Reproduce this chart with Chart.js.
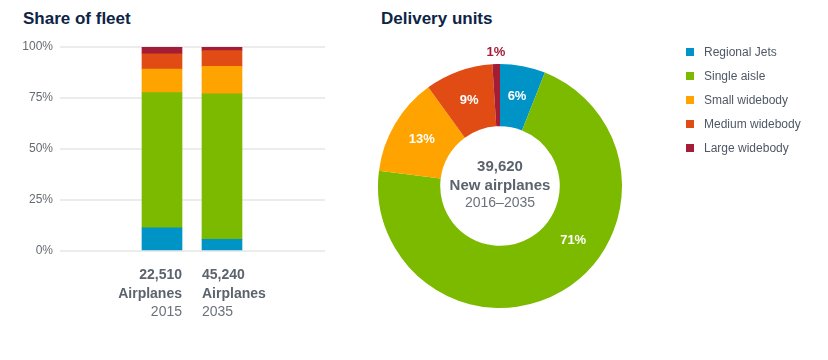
<!DOCTYPE html>
<html>
<head>
<meta charset="utf-8">
<script src="https://cdn.jsdelivr.net/npm/chart.js@4.4.1/dist/chart.umd.min.js"></script>
<style>
  html, body { margin: 0; padding: 0; background: #fff; }
  body { width: 828px; height: 360px; position: relative; overflow: hidden; font-family: "Liberation Sans", Arial, sans-serif; }
  .title { position: absolute; font-weight: bold; font-size: 17px; color: #0d2446; line-height: 20px; }
  #barWrap { position: absolute; left: 0; top: 0; width: 340px; height: 340px; }
  #pieWrap { position: absolute; left: 340px; top: 0; width: 488px; height: 340px; }
  #legend { position: absolute; left: 686px; top: 45px; font-size: 12px; color: #4f5866; }
  .li { height: 24px; position: relative; }
  .sw { position: absolute; left: 0; top: 3px; width: 8px; height: 8px; }
  .lt { position: absolute; left: 18px; top: 0; line-height: 14px; white-space: nowrap; }
</style>
</head>
<body>
<div class="title" style="left:23px;top:9px;">Share of fleet</div>
<div class="title" style="left:381px;top:9px;">Delivery units</div>
<div id="barWrap"><canvas id="bar" width="340" height="340"></canvas></div>
<div id="pieWrap"><canvas id="pie" width="488" height="340"></canvas></div>
<div id="legend"></div>
<script>
// ---- Data ----
const segments = ['Regional Jets', 'Single aisle', 'Small widebody', 'Medium widebody', 'Large widebody'];
const segmentColors = ['#0093c6', '#7cba00', '#ffa300', '#e14b14', '#a41d37'];
const fleetYears = ['2015', '2035'];
const fleetCounts = ['22,510', '45,240'];
const fleetUnit = 'Airplanes';
const fleetPositions = [1, 2];
const share2015 = [11.3, 66.3, 11.6, 7.5, 3.3];
const share2035 = [5.7, 71.3, 13.5, 7.7, 1.8];
const yTicks = [0, 25, 50, 75, 100];
const deliveryShare = [6, 71, 13, 9, 1];
const deliveryTotal = '39,620';
const deliveryCaption = 'New airplanes';
const deliveryPeriod = '2016\u20132035';

const FONT = '"Liberation Sans", Arial, sans-serif';

// ---- Legend ----
const legendEl = document.getElementById('legend');
segments.forEach((s, i) => {
  const d = document.createElement('div');
  d.className = 'li';
  d.innerHTML = '<span class="sw" style="background:' + segmentColors[i] + '"></span><span class="lt">' + s + '</span>';
  legendEl.appendChild(d);
});

// ---- Bar chart ----
const barDatasets = segments.map((s, i) => ({
  label: s,
  data: fleetPositions.map((x, j) => ({ x: x, y: [share2015, share2035][j][i] })),
  backgroundColor: segmentColors[i],
  borderWidth: 0,
  barThickness: 40
}));

const barLabelsPlugin = {
  id: 'barLabels',
  afterDraw(chart) {
    const ctx = chart.ctx;
    const meta = chart.getDatasetMeta(0);
    const base = chart.chartArea.bottom;
    meta.data.forEach((bar, j) => {
      const left = bar.x - bar.width / 2, right = bar.x + bar.width / 2;
      const alignRight = j === 0;
      const x = alignRight ? right : left;
      ctx.save();
      ctx.textAlign = alignRight ? 'right' : 'left';
      ctx.textBaseline = 'middle';
      ctx.fillStyle = '#5b636e';
      ctx.font = 'bold 14px ' + FONT;
      ctx.fillText(fleetCounts[j], x, base + 24);
      ctx.fillText(fleetUnit, x, base + 43);
      ctx.font = '14px ' + FONT;
      ctx.fillStyle = '#6b727c';
      ctx.fillText(fleetYears[j], x, base + 61);
      ctx.restore();
    });
  }
};

new Chart(document.getElementById('bar'), {
  type: 'bar',
  data: { datasets: barDatasets },
  options: {
    responsive: false,
    animation: false,
    layout: { padding: { left: 0, right: 15, top: 47, bottom: 89 } },
    plugins: { legend: { display: false }, tooltip: { enabled: false } },
    scales: {
      x: { type: 'linear', min: -0.7, max: 3.717, offset: false, display: false, stacked: true },
      y: {
        stacked: true, min: 0, max: 100,
        afterFit(s) { s.width = 60; },
        afterBuildTicks(s) { s.ticks = yTicks.map(v => ({ value: v })); },
        border: { display: false },
        grid: { color: '#ececec', lineWidth: 2, drawTicks: false },
        ticks: { padding: 7, color: '#666b72', font: { family: FONT, size: 12 }, callback: v => v + '%' }
      }
    }
  },
  plugins: [barLabelsPlugin]
});

// ---- Doughnut chart ----
const pieLabelsPlugin = {
  id: 'pieLabels',
  afterDraw(chart, args, opts) {
    const ctx = chart.ctx;
    const meta = chart.getDatasetMeta(0);
    meta.data.forEach((arc, i) => {
      const p = arc.getProps(['x', 'y', 'startAngle', 'endAngle', 'innerRadius', 'outerRadius'], true);
      const frac = (opts.angleFraction && opts.angleFraction[i] != null) ? opts.angleFraction[i] : 0.5;
      const a = p.startAngle + (p.endAngle - p.startAngle) * frac;
      const val = deliveryShare[i];
      const outside = val < 3;
      const r = outside ? p.outerRadius + 12 : (p.innerRadius + p.outerRadius) / 2;
      const x = p.x + Math.cos(a) * r, y = p.y + Math.sin(a) * r;
      ctx.save();
      ctx.font = 'bold 13px ' + FONT;
      ctx.textAlign = 'center';
      ctx.textBaseline = 'middle';
      ctx.fillStyle = outside ? segmentColors[i] : '#ffffff';
      ctx.fillText(val + '%', x, y);
      ctx.restore();
    });
    // center text
    const c = meta.data[0];
    ctx.save();
    ctx.textAlign = 'center';
    ctx.textBaseline = 'middle';
    ctx.fillStyle = '#5b636e';
    ctx.font = 'bold 15px ' + FONT;
    ctx.fillText(deliveryTotal, c.x, c.y - 19);
    ctx.fillText(deliveryCaption, c.x, c.y);
    ctx.font = '14px ' + FONT;
    ctx.fillStyle = '#6b727c';
    ctx.fillText(deliveryPeriod, c.x, c.y + 17);
    ctx.restore();
  }
};

new Chart(document.getElementById('pie'), {
  type: 'doughnut',
  data: {
    labels: segments,
    datasets: [{ data: deliveryShare, backgroundColor: segmentColors, borderWidth: 0 }]
  },
  options: {
    responsive: false,
    animation: false,
    cutout: '49%',
    layout: { padding: { left: 38, right: 206, top: 64, bottom: 32 } },
    plugins: {
      legend: { display: false },
      tooltip: { enabled: false },
      pieLabels: { angleFraction: [0.5, 0.41, 0.5, 0.5, 0.5] }
    }
  },
  plugins: [pieLabelsPlugin]
});
</script>
</body>
</html>
